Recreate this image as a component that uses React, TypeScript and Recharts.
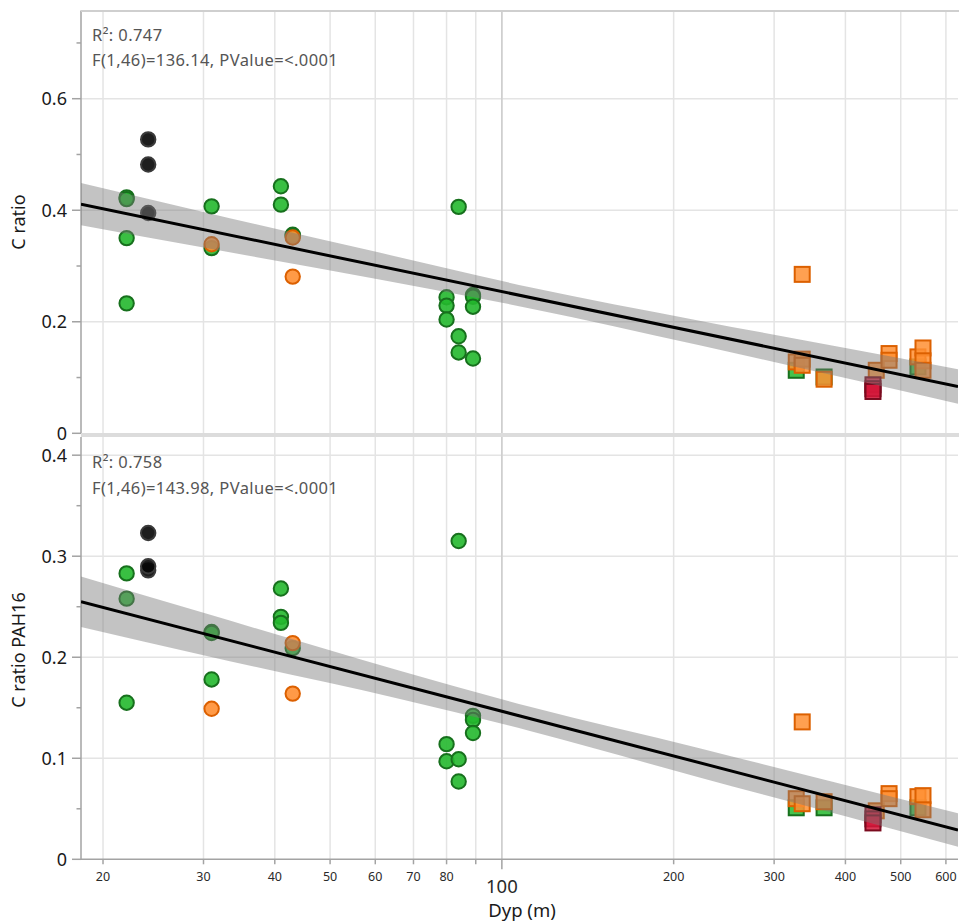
import React from "react";
import { ComposedChart, Scatter, Line, Area, XAxis, YAxis, CartesianGrid, ReferenceLine } from "recharts";

const FONT = "'Noto Sans', 'Open Sans', sans-serif";

// ── Axes ─────────────────────────────────────────────────────────────────────
const xTicks = [20, 30, 40, 50, 60, 70, 80, 90, 100, 200, 300, 400, 500, 600];
const xDomain = [18.3, 630];
const cRatioTicks = [0, 0.1, 0.2, 0.3, 0.4, 0.5, 0.6, 0.7];
const cRatioMajor = [0, 0.2, 0.4, 0.6];
const pahTicks = [0, 0.05, 0.1, 0.15, 0.2, 0.25, 0.3, 0.35, 0.4];
const pahMajor = [0, 0.1, 0.2, 0.3, 0.4];

// ── C ratio (top) ────────────────────────────────────────────────────────────
const cGreenCircles = [
  { d: 22, v: 0.423 }, { d: 22, v: 0.42 }, { d: 22, v: 0.35 }, { d: 22, v: 0.233 },
  { d: 31, v: 0.407 }, { d: 31, v: 0.332 },
  { d: 41, v: 0.443 }, { d: 41, v: 0.41 },
  { d: 43, v: 0.356 }, { d: 43, v: 0.354 },
  { d: 80, v: 0.244 }, { d: 80, v: 0.229 }, { d: 80, v: 0.204 },
  { d: 84, v: 0.406 }, { d: 84, v: 0.174 }, { d: 84, v: 0.145 },
  { d: 89, v: 0.248 }, { d: 89, v: 0.245 }, { d: 89, v: 0.227 }, { d: 89, v: 0.134 },
];
const cBlackCircles = [{ d: 24, v: 0.527 }, { d: 24, v: 0.482 }, { d: 24, v: 0.395 }];
const cOrangeCircles = [{ d: 31, v: 0.339 }, { d: 43, v: 0.351 }, { d: 43, v: 0.281 }];
const cGreenSquares = [{ d: 328, v: 0.113 }, { d: 367, v: 0.101 }, { d: 536, v: 0.119 }];
const cOrangeSquares = [
  { d: 336, v: 0.285 }, { d: 328, v: 0.128 }, { d: 336, v: 0.133 }, { d: 336, v: 0.122 },
  { d: 367, v: 0.097 }, { d: 453, v: 0.113 }, { d: 477, v: 0.143 }, { d: 477, v: 0.131 },
  { d: 536, v: 0.137 }, { d: 547, v: 0.153 }, { d: 547, v: 0.13 }, { d: 547, v: 0.113 },
];
const cRedSquares = [{ d: 447, v: 0.087 }, { d: 447, v: 0.08 }, { d: 447, v: 0.075 }];
const cFit = [{ d: 18.3, fit: 0.411 }, { d: 630, fit: 0.084 }];
const cBand = [
  { d: 18.3, band: [0.373, 0.449] },
  { d: 30, band: [0.333, 0.397] },
  { d: 61, band: [0.276, 0.324] },
  { d: 112, band: [0.224, 0.262] },
  { d: 222, band: [0.158, 0.202] },
  { d: 400, band: [0.099, 0.153] },
  { d: 630, band: [0.053, 0.115] },
];

// ── C ratio PAH16 (bottom) ───────────────────────────────────────────────────
const pGreenCircles = [
  { d: 22, v: 0.283 }, { d: 22, v: 0.258 }, { d: 22, v: 0.155 },
  { d: 31, v: 0.225 }, { d: 31, v: 0.224 }, { d: 31, v: 0.178 },
  { d: 41, v: 0.268 }, { d: 41, v: 0.24 }, { d: 41, v: 0.234 },
  { d: 43, v: 0.209 },
  { d: 80, v: 0.114 }, { d: 80, v: 0.097 },
  { d: 84, v: 0.315 }, { d: 84, v: 0.099 }, { d: 84, v: 0.077 },
  { d: 89, v: 0.142 }, { d: 89, v: 0.138 }, { d: 89, v: 0.125 },
];
const pBlackCircles = [{ d: 24, v: 0.323 }, { d: 24, v: 0.286 }, { d: 24, v: 0.29 }];
const pOrangeCircles = [{ d: 31, v: 0.149 }, { d: 43, v: 0.214 }, { d: 43, v: 0.164 }];
const pGreenSquares = [{ d: 328, v: 0.051 }, { d: 367, v: 0.051 }, { d: 536, v: 0.051 }];
const pOrangeSquares = [
  { d: 336, v: 0.136 }, { d: 328, v: 0.06 }, { d: 336, v: 0.055 }, { d: 367, v: 0.057 },
  { d: 453, v: 0.048 }, { d: 477, v: 0.065 }, { d: 477, v: 0.06 },
  { d: 536, v: 0.062 }, { d: 547, v: 0.063 }, { d: 547, v: 0.049 },
];
const pRedSquares = [{ d: 447, v: 0.044 }, { d: 447, v: 0.04 }, { d: 447, v: 0.036 }];
const pFit = [{ d: 18.3, fit: 0.255 }, { d: 630, fit: 0.029 }];
const pBand = [
  { d: 18.3, band: [0.23, 0.28] },
  { d: 30, band: [0.202, 0.244] },
  { d: 66, band: [0.159, 0.187] },
  { d: 112, band: [0.127, 0.151] },
  { d: 222, band: [0.081, 0.11] },
  { d: 400, band: [0.0425, 0.0735] },
  { d: 630, band: [0.0125, 0.0455] },
];

const GREEN = { fill: "#24b82e", stroke: "#17701d" };
const BLACK = { fill: "#050505", stroke: "#3a3a3a" };
const ORANGE = { fill: "#ff8f33", stroke: "#dc6000" };
const RED = { fill: "#d3183a", stroke: "#7a0a1e" };

const circle = (c: { fill: string; stroke: string }) => (p: any) =>
  <circle cx={p.cx} cy={p.cy} r={7.2} fill={c.fill} fillOpacity={0.9} stroke={c.stroke} strokeWidth={2} />;
const square = (c: { fill: string; stroke: string }) => (p: any) =>
  <rect x={p.cx - 7.5} y={p.cy - 7.5} width={15} height={15} fill={c.fill} fillOpacity={0.85} stroke={c.stroke} strokeWidth={2} />;

const axisGray = "#a3a3a3";

const makeYTick = (majors: number[]) => ({ x, y, payload }: any) => {
  const v = payload.value;
  const major = majors.some((m) => Math.abs(m - v) < 1e-9);
  return (
    <g>
      <line x1={x - (major ? 9 : 4.5)} x2={x} y1={y} y2={y} stroke={axisGray} strokeWidth={1.5} />
      {major && (
        <text x={x - 14} y={y} dy="0.36em" textAnchor="end" fontSize={18} fill="#1a1a1a" fontFamily={FONT}>
          {v}
        </text>
      )}
    </g>
  );
};

function XTick({ x, y, payload }: any) {
  const v = payload.value;
  const big = v === 100;
  return (
    <g>
      <line x1={x} x2={x} y1={y} y2={y + (big ? 10 : 5)} stroke={axisGray} strokeWidth={1.5} />
      {v !== 90 && (
        <text x={x} y={y + (big ? 27 : 17.5)} dy="0.36em" textAnchor="middle" fontSize={big ? 18.5 : 12.5} fill="#2a2a2a" fontFamily={FONT}>
          {v}
        </text>
      )}
    </g>
  );
}

function Panel({ height, top, bottom, yMax, ticks, majors, hGrid, groups, fit, band, showX }: any) {
  return (
    <ComposedChart width={959} height={height} margin={{ top, right: 1, bottom: showX ? 0 : bottom, left: 0 }}>
      <CartesianGrid horizontalValues={hGrid} verticalValues={xTicks} stroke="#e4e4e4" strokeWidth={1.5} />
      <ReferenceLine x={100} stroke="#cdcdcd" strokeWidth={1.5} />
      <XAxis
        dataKey="d"
        type="number"
        scale="log"
        domain={xDomain}
        allowDataOverflow
        ticks={xTicks}
        interval={0}
        hide={!showX}
        height={showX ? bottom : 0}
        tickSize={0}
        tickMargin={0}
        tick={<XTick />}
        axisLine={{ stroke: axisGray, strokeWidth: 1.5 }}
      />
      <YAxis
        dataKey="v"
        type="number"
        domain={[0, yMax]}
        allowDataOverflow
        ticks={ticks}
        interval={0}
        width={81}
        tickSize={0}
        tickMargin={0}
        tick={makeYTick(majors)}
        axisLine={{ stroke: axisGray, strokeWidth: 1.5 }}
      />
      {groups.map((g: any, i: number) => (
        <Scatter key={i} data={g.data} shape={g.shape} isAnimationActive={false} />
      ))}
      <Area data={band} dataKey="band" type="monotone" fill="#7a7a7a" fillOpacity={0.45} stroke="none" isAnimationActive={false} zIndex={650} />
      <Line data={fit} dataKey="fit" type="linear" stroke="#000" strokeWidth={3} dot={false} isAnimationActive={false} zIndex={660} />
    </ComposedChart>
  );
}

const note = (top: number): React.CSSProperties => ({
  position: "absolute",
  left: 92,
  top,
  fontSize: 16.5,
  letterSpacing: 0.4,
  lineHeight: "20px",
  color: "#555",
  whiteSpace: "nowrap",
});

const yTitle = (cy: number): React.CSSProperties => ({
  position: "absolute",
  left: 18 - 150,
  top: cy - 12,
  width: 300,
  lineHeight: "24px",
  textAlign: "center",
  fontSize: 18,
  color: "#1a1a1a",
  transform: "rotate(-90deg)",
});

export default function App() {
  const topGroups = [
    { data: cGreenCircles, shape: circle(GREEN) },
    { data: cBlackCircles, shape: circle(BLACK) },
    { data: cOrangeCircles, shape: circle(ORANGE) },
    { data: cGreenSquares, shape: square(GREEN) },
    { data: cOrangeSquares, shape: square(ORANGE) },
    { data: cRedSquares, shape: square(RED) },
  ];
  const bottomGroups = [
    { data: pGreenCircles, shape: circle(GREEN) },
    { data: pBlackCircles, shape: circle(BLACK) },
    { data: pOrangeCircles, shape: circle(ORANGE) },
    { data: pGreenSquares, shape: square(GREEN) },
    { data: pOrangeSquares, shape: square(ORANGE) },
    { data: pRedSquares, shape: square(RED) },
  ];
  return (
    <div style={{ position: "absolute", left: 0, top: 0, width: 959, height: 924, background: "#fff", fontFamily: FONT, overflow: "hidden" }}>
      <div style={{ position: "absolute", left: 0, top: 0 }}>
        <Panel height={450} top={10.6} bottom={16.7} yMax={0.758} ticks={cRatioTicks} majors={cRatioMajor} hGrid={[0.2, 0.4, 0.6]} groups={topGroups} fit={cFit} band={cBand} showX={false} />
      </div>
      <div style={{ position: "absolute", left: 0, top: 437 }}>
        <Panel height={487} top={0} bottom={64.7} yMax={0.418} ticks={pahTicks} majors={pahMajor} hGrid={[0.1, 0.2, 0.3, 0.4]} groups={bottomGroups} fit={pFit} band={pBand} showX />
      </div>
      {/* frame top and panel separator */}
      <div style={{ position: "absolute", left: 81, top: 10, width: 878, height: 1.5, background: "#cfcfcf" }} />
      <div style={{ position: "absolute", left: 81, top: 433, width: 878, height: 4, background: "#dcdcdc" }} />
      <div style={note(25)}>R²: 0.747</div>
      <div style={note(50)}>F(1,46)=136.14, PValue=&lt;.0001</div>
      <div style={note(452)}>R²: 0.758</div>
      <div style={note(478)}>F(1,46)=143.98, PValue=&lt;.0001</div>
      <div style={yTitle(222)}>C ratio</div>
      <div style={yTitle(650)}>C ratio PAH16</div>
      <div style={{ position: "absolute", left: 522 - 100, top: 900, width: 200, textAlign: "center", fontSize: 18.5, lineHeight: "20px", color: "#1a1a1a" }}>
        Dyp (m)
      </div>
    </div>
  );
}
